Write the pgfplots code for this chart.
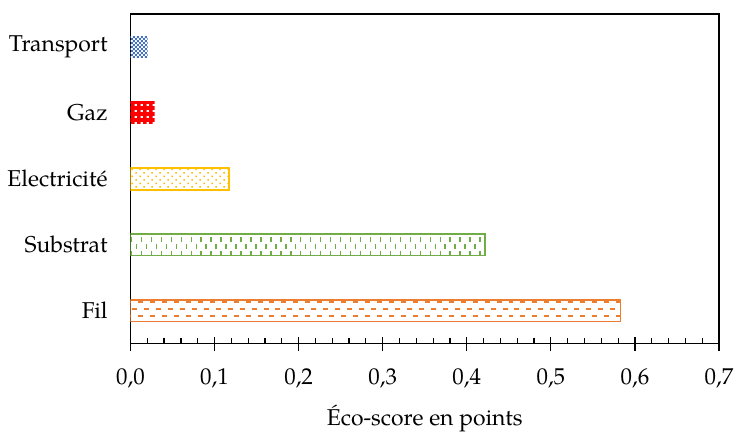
\documentclass[border=0pt]{standalone}
\usepackage{fontspec}
\setmainfont{TeX Gyre Pagella}
\usepackage{pgfplots}
\pgfplotsset{compat=1.18}
\usetikzlibrary{patterns}

\definecolor{cblue}{HTML}{4472C4}
\definecolor{cred}{HTML}{FF0000}
\definecolor{cyellow}{HTML}{FFC000}
\definecolor{cgreen}{HTML}{70AD47}
\definecolor{corange}{HTML}{ED7D31}

\pgfdeclarepatternformonly{bluecheck}{\pgfqpoint{0pt}{0pt}}{\pgfqpoint{2pt}{2pt}}{\pgfqpoint{2pt}{2pt}}{%
\pgfpathrectangle{\pgfqpoint{0pt}{0pt}}{\pgfqpoint{1pt}{1pt}}%
\pgfpathrectangle{\pgfqpoint{1pt}{1pt}}{\pgfqpoint{1pt}{1pt}}%
\pgfusepath{fill}}

\pgfdeclarepatternformonly{redcheck}{\pgfqpoint{0pt}{0pt}}{\pgfqpoint{3pt}{3pt}}{\pgfqpoint{3pt}{3pt}}{%
\pgfpathrectangle{\pgfqpoint{0pt}{0pt}}{\pgfqpoint{3pt}{2pt}}%
\pgfpathrectangle{\pgfqpoint{0pt}{2pt}}{\pgfqpoint{1.8pt}{1pt}}%
\pgfusepath{fill}}

\pgfdeclarepatternformonly{sparsedots}{\pgfqpoint{0pt}{0pt}}{\pgfqpoint{4pt}{3.5pt}}{\pgfqpoint{4pt}{3.5pt}}{%
\pgfpathrectangle{\pgfqpoint{0.2pt}{0.2pt}}{\pgfqpoint{0.8pt}{0.8pt}}%
\pgfpathrectangle{\pgfqpoint{2.2pt}{1.95pt}}{\pgfqpoint{0.8pt}{0.8pt}}%
\pgfusepath{fill}}

\pgfdeclarepatternformonly{vdash}{\pgfqpoint{-0.5pt}{-0.5pt}}{\pgfqpoint{5.5pt}{7.5pt}}{\pgfqpoint{5pt}{7pt}}{%
\pgfsetlinewidth{0.7pt}%
\pgfpathmoveto{\pgfqpoint{1pt}{0.3pt}}\pgfpathlineto{\pgfqpoint{1pt}{3pt}}%
\pgfpathmoveto{\pgfqpoint{3.5pt}{3.8pt}}\pgfpathlineto{\pgfqpoint{3.5pt}{6.5pt}}%
\pgfusepath{stroke}}

\pgfdeclarepatternformonly{hdash}{\pgfqpoint{-0.5pt}{-0.5pt}}{\pgfqpoint{6.5pt}{7.5pt}}{\pgfqpoint{6pt}{7pt}}{%
\pgfsetlinewidth{1pt}%
\pgfpathmoveto{\pgfqpoint{0.3pt}{1.75pt}}\pgfpathlineto{\pgfqpoint{2.8pt}{1.75pt}}%
\pgfpathmoveto{\pgfqpoint{3.3pt}{5.25pt}}\pgfpathlineto{\pgfqpoint{5.8pt}{5.25pt}}%
\pgfusepath{stroke}}

\begin{document}
\begin{tikzpicture}
\begin{axis}[
  scale only axis,
  width=295.5pt, height=165.5pt,
  xmin=0, xmax=0.7, ymin=-0.5, ymax=4.5,
  xtick={0,0.1,0.2,0.3,0.4,0.5,0.6,0.7},
  minor x tick num=4,
  xtick pos=lower,
  ytick={0,1,2,3,4},
  yticklabels={Fil,Substrat,Electricité,Gaz,Transport},
  ytick style={draw=none},
  tick align=inside,
  major tick length=7pt,
  minor tick length=3pt,
  every major x tick/.append style={yshift=-3.5pt},
  tick style={black, line width=0.6pt},
  axis line style={line width=0.75pt},
  font=\fontsize{11.5}{13.5}\selectfont,
  xticklabel style={yshift=-9pt},
  yticklabel style={xshift=-8pt},
  xlabel={Éco-score en points},
  xlabel style={yshift=-1.5pt},
  /pgf/number format/.cd, use comma, fixed, fixed zerofill, precision=1, assume math mode=true,
]
\addplot[xbar, bar width=11pt, bar shift=0pt, draw=none, pattern=bluecheck, pattern color=cblue] coordinates {(0.0205,4)};
\addplot[xbar, bar width=11pt, bar shift=0pt, draw=none, pattern=redcheck, pattern color=cred] coordinates {(0.0288,3)};
\addplot[xbar, bar width=11pt, bar shift=0pt, draw=cyellow, line width=0.8pt, pattern=sparsedots, pattern color=cyellow] coordinates {(0.1173,2)};
\addplot[xbar, bar width=11pt, bar shift=0pt, draw=cgreen, line width=0.8pt, pattern=vdash, pattern color=cgreen] coordinates {(0.4213,1)};
\addplot[xbar, bar width=11pt, bar shift=0pt, draw=corange, line width=0.9pt, pattern=hdash, pattern color=corange] coordinates {(0.5827,0)};
\end{axis}
\path (current axis.south west) ++(-65.5pt,-43.5pt) rectangle ++(370pt,216pt);
\end{tikzpicture}
\end{document}
